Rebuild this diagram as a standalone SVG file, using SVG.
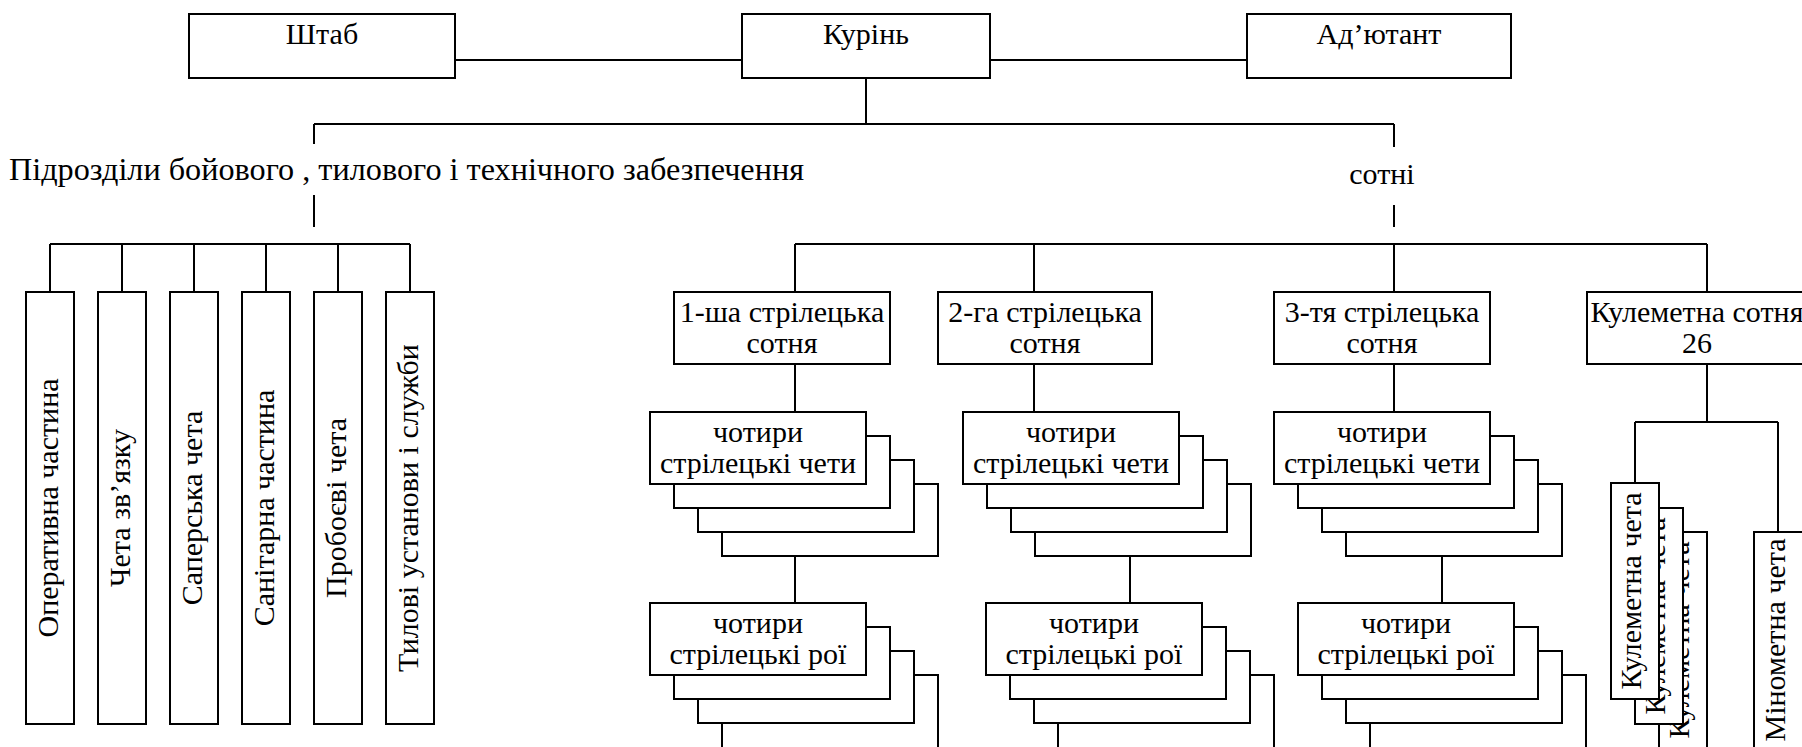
<svg xmlns="http://www.w3.org/2000/svg" width="1802" height="747" viewBox="0 0 1802 747">
<style>
.box{fill:#fff;stroke:#000;stroke-width:2}
.ln{fill:none;stroke:#000;stroke-width:2}
.t{font-family:"Liberation Serif","Times New Roman",serif;font-size:30px;fill:#000;text-anchor:middle}
.tl{font-family:"Liberation Serif","Times New Roman",serif;font-size:31px;fill:#000}
</style>
<rect width="1802" height="747" fill="#fff"/>
<g id="connectors">
<path class="ln" d="M455 60H742M990 60H1247"/>
<path class="ln" d="M866 78V124M314 124H1394M314 124V144M314 195V227M1394 124V147M1394 205V227"/>
<path class="ln" d="M50 244H410M50 244V292M122 244V292M194 244V292M266 244V292M338 244V292M410 244V292"/>
<path class="ln" d="M795 244H1707M795 244V292M1034 244V292M1394 244V292M1707 244V292"/>
<path class="ln" d="M795 364V412M1034 364V412M1394 364V412"/>
<path class="ln" d="M795 556V603M1130 556V603M1442 556V603"/>
<path class="ln" d="M1707 364V422M1635 422H1778M1635 422V483M1778 422V532"/>
</g>
<g id="shtab"><rect class="box" x="189" y="14" width="266" height="64"/><text class="t" x="322" y="44">Штаб</text></g>
<g id="kurin"><rect class="box" x="742" y="14" width="248" height="64"/><text class="t" x="866" y="44">Курінь</text></g>
<g id="adjutant"><rect class="box" x="1247" y="14" width="264" height="64"/><text class="t" x="1379" y="44">Ад’ютант</text></g>
<g id="label-support"><text class="tl" x="9" y="180" textLength="795" lengthAdjust="spacingAndGlyphs">Підрозділи бойового , тилового і технічного забезпечення</text></g>
<g id="label-sotni"><text class="t" x="1382" y="184">сотні</text></g>
<g id="operative"><rect class="box" x="26" y="292" width="48" height="432"/><text class="t" transform="translate(58 508) rotate(-90)">Оперативна частина</text></g>
<g id="signal"><rect class="box" x="98" y="292" width="48" height="432"/><text class="t" transform="translate(130 508) rotate(-90)">Чета зв’язку</text></g>
<g id="sapper"><rect class="box" x="170" y="292" width="48" height="432"/><text class="t" transform="translate(202 508) rotate(-90)">Саперська чета</text></g>
<g id="medical"><rect class="box" x="242" y="292" width="48" height="432"/><text class="t" transform="translate(274 508) rotate(-90)">Санітарна частина</text></g>
<g id="assault"><rect class="box" x="314" y="292" width="48" height="432"/><text class="t" transform="translate(346 508) rotate(-90)">Пробоєві чета</text></g>
<g id="rear"><rect class="box" x="386" y="292" width="48" height="432"/><text class="t" transform="translate(418 508) rotate(-90)">Тилові установи і служби</text></g>
<g id="sotnia1"><rect class="box" x="674" y="292" width="216" height="72"/><text class="t" x="782" y="322">1-ша стрілецька</text><text class="t" x="782" y="353">сотня</text></g>
<g id="sotnia2"><rect class="box" x="938" y="292" width="214" height="72"/><text class="t" x="1045" y="322">2-га стрілецька</text><text class="t" x="1045" y="353">сотня</text></g>
<g id="sotnia3"><rect class="box" x="1274" y="292" width="216" height="72"/><text class="t" x="1382" y="322">3-тя стрілецька</text><text class="t" x="1382" y="353">сотня</text></g>
<g id="mg-sotnia"><rect class="box" x="1587" y="292" width="222" height="72"/><text class="t" x="1697" y="322">Кулеметна сотня</text><text class="t" x="1697" y="353">26</text></g>
<g id="chety1"><rect class="box" x="722" y="484" width="216" height="72"/><rect class="box" x="698" y="460" width="216" height="72"/><rect class="box" x="674" y="436" width="216" height="72"/><rect class="box" x="650" y="412" width="216" height="72"/><text class="t" x="758" y="442">чотири</text><text class="t" x="758" y="473">стрілецькі чети</text></g>
<g id="chety2"><rect class="box" x="1035" y="484" width="216" height="72"/><rect class="box" x="1011" y="460" width="216" height="72"/><rect class="box" x="987" y="436" width="216" height="72"/><rect class="box" x="963" y="412" width="216" height="72"/><text class="t" x="1071" y="442">чотири</text><text class="t" x="1071" y="473">стрілецькі чети</text></g>
<g id="chety3"><rect class="box" x="1346" y="484" width="216" height="72"/><rect class="box" x="1322" y="460" width="216" height="72"/><rect class="box" x="1298" y="436" width="216" height="72"/><rect class="box" x="1274" y="412" width="216" height="72"/><text class="t" x="1382" y="442">чотири</text><text class="t" x="1382" y="473">стрілецькі чети</text></g>
<g id="roi1"><rect class="box" x="722" y="675" width="216" height="90"/><rect class="box" x="698" y="651" width="216" height="72"/><rect class="box" x="674" y="627" width="216" height="72"/><rect class="box" x="650" y="603" width="216" height="72"/><text class="t" x="758" y="633">чотири</text><text class="t" x="758" y="664">стрілецькі рої</text></g>
<g id="roi2"><rect class="box" x="1058" y="675" width="216" height="90"/><rect class="box" x="1034" y="651" width="216" height="72"/><rect class="box" x="1010" y="627" width="216" height="72"/><rect class="box" x="986" y="603" width="216" height="72"/><text class="t" x="1094" y="633">чотири</text><text class="t" x="1094" y="664">стрілецькі рої</text></g>
<g id="roi3"><rect class="box" x="1370" y="675" width="216" height="90"/><rect class="box" x="1346" y="651" width="216" height="72"/><rect class="box" x="1322" y="627" width="216" height="72"/><rect class="box" x="1298" y="603" width="216" height="72"/><text class="t" x="1406" y="633">чотири</text><text class="t" x="1406" y="664">стрілецькі рої</text></g>
<g id="mg-chety">
<rect class="box" x="1659" y="532" width="48" height="230"/><text class="t" transform="translate(1689 640) rotate(-90)">Кулеметна чета</text>
<rect class="box" x="1635" y="508" width="48" height="216"/><text class="t" transform="translate(1665 616) rotate(-90)">Кулеметна чета</text>
<rect class="box" x="1611" y="483" width="48" height="216"/><text class="t" transform="translate(1641 591) rotate(-90)">Кулеметна чета</text>
</g>
<g id="mortar"><rect class="box" x="1754" y="532" width="60" height="230"/><text class="t" transform="translate(1785 640) rotate(-90)">Мінометна чета</text></g>
</svg>
